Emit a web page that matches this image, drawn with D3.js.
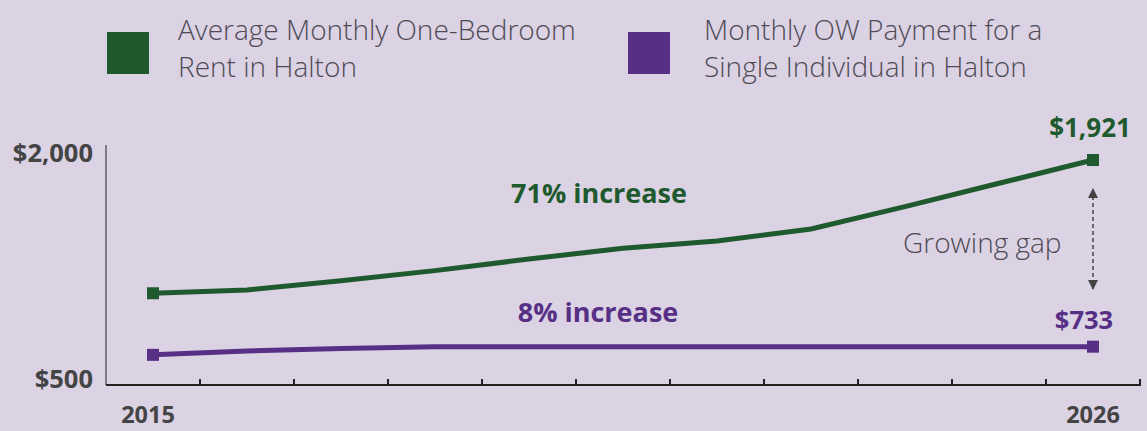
<!DOCTYPE html>
<html>
<head>
<meta charset="utf-8">
<script src="https://cdn.jsdelivr.net/npm/d3@7"></script>
<style>
  html, body { margin: 0; padding: 0; background: #dbd2e4; }
  svg { display: block; font-family: "Open Sans", "Noto Sans", sans-serif; }
</style>
</head>
<body>
<svg id="chart" width="1147" height="431"></svg>
<script>
/*
Values */
var years = ["2015", "2016", "2017", "2018", "2019", "2020", "2021", "2022", "2023", "2024", "2026"];
var rent = [1073, 1094, 1153, 1217, 1291, 1359, 1406, 1482, 1624, 1773, 1921];
var ow = [681, 706, 721, 733, 733, 733, 733, 733, 733, 733, 733];
var yTicks = [500, 2000];
var xLabels = ["2015", "2026"];
var legendNames = [["Average Monthly One-Bedroom", "Rent in Halton"],
                   ["Monthly OW Payment for a", "Single Individual in Halton"]];

var green = "#1e5a2d";
var purple = "#573086";
var textGrey = "#4f4b55";

var svg = d3.select("#chart");

var x = d3.scaleBand().domain(years).range([106, 1140]).padding(0);
var y = d3.scaleLinear().domain([500, 2000]).range([383.3, 147.6]);
function cx(d) { return x(d) + x.bandwidth() / 2; }

/*
Legend */
var legendX = [107, 628];
var legendTextX = [178, 704];
var legendColors = [green, purple];
legendNames.forEach(function(lines, i) {
  svg.append("rect")
    .attr("x", legendX[i]).attr("y", 32)
    .attr("width", 42).attr("height", 42)
    .attr("fill", legendColors[i]);
  var t = svg.append("text")
    .attr("x", legendTextX[i]).attr("y", 40)
    .attr("fill", textGrey)
    .style("font-size", "28px").style("font-weight", 300);
  lines.forEach(function(l, j) {
    t.append("tspan").attr("x", legendTextX[i]).attr("dy", j ? 37 : 0).text(l);
  });
});

/*
Axes */
svg.append("line")
  .attr("x1", 106).attr("x2", 106).attr("y1", 145).attr("y2", 385)
  .attr("stroke", "#625c69").attr("stroke-width", 1.5);
svg.append("line")
  .attr("x1", 106).attr("x2", 1141).attr("y1", 385).attr("y2", 385)
  .attr("stroke", "#222").attr("stroke-width", 2);
svg.selectAll(".tick")
  .data(years)
  .enter().append("line")
  .attr("x1", function(d) { return x(d) + x.bandwidth(); })
  .attr("x2", function(d) { return x(d) + x.bandwidth(); })
  .attr("y1", 379).attr("y2", 385)
  .attr("stroke", "#222").attr("stroke-width", 2);

svg.selectAll(".ylab")
  .data(yTicks)
  .enter().append("text")
  .attr("x", 93)
  .attr("y", function(d) { return y(d) + (d == 2000 ? 14 : 5); })
  .attr("text-anchor", "end")
  .attr("fill", "#444")
  .style("font-size", "25.5px").style("font-weight", 700)
  .text(function(d) { return "$" + d3.format(",")(d); });

svg.selectAll(".xlab")
  .data(xLabels)
  .enter().append("text")
  .attr("x", function(d) { return cx(d) - (d == "2015" ? 5 : 0); })
  .attr("y", 423)
  .attr("text-anchor", "middle")
  .attr("fill", "#444")
  .style("font-size", "23.5px").style("font-weight", 700)
  .text(function(d) { return d; });

/*
Lines */
var line = d3.line()
  .x(function(d, i) { return cx(years[i]); })
  .y(function(d) { return y(d); });

[[rent, green], [ow, purple]].forEach(function(s) {
  svg.append("path")
    .datum(s[0])
    .attr("d", line)
    .attr("fill", "none")
    .attr("stroke", s[1])
    .attr("stroke-width", 5);
  var ends = [0, s[0].length - 1];
  svg.selectAll(null)
    .data(ends)
    .enter().append("rect")
    .attr("x", function(i) { return cx(years[i]) - 6; })
    .attr("y", function(i) { return y(s[0][i]) - 6; })
    .attr("width", 12).attr("height", 12)
    .attr("fill", s[1]);
});

/*
Annotations */
function label(txt, px, py, col, size, weight) {
  svg.append("text")
    .attr("x", px).attr("y", py)
    .attr("text-anchor", "middle")
    .attr("fill", col)
    .style("font-size", size).style("font-weight", weight)
    .text(txt);
}
var last = years.length - 1;
label("$" + d3.format(",")(rent[last]), cx(years[last]) - 3, 137, green, "26px", 700);
label("$" + ow[last], cx(years[last]) - 9, 329, purple, "25.5px", 700);
label("71% increase", 599, 203, green, "27px", 700);
label("8% increase", 598, 322, purple, "27px", 700);

svg.append("text")
  .attr("x", 903).attr("y", 253)
  .attr("fill", textGrey)
  .style("font-size", "28px").style("font-weight", 300)
  .text("Growing gap");

/*
Growing gap arrow */
var defs = svg.append("defs");
defs.append("marker")
  .attr("id", "tri").attr("viewBox", "0 0 10 10")
  .attr("refX", 9).attr("refY", 5)
  .attr("markerWidth", 10).attr("markerHeight", 10)
  .attr("markerUnits", "userSpaceOnUse")
  .attr("orient", "auto-start-reverse")
  .append("path").attr("d", "M0,0L10,5L0,10Z").attr("fill", "#444");
var ax = cx(years[last]);
svg.append("line")
  .attr("x1", ax).attr("x2", ax)
  .attr("y1", 189).attr("y2", 289)
  .attr("stroke", "#444").attr("stroke-width", 1.5)
  .attr("stroke-dasharray", "4,3")
  .attr("marker-start", "url(#tri)")
  .attr("marker-end", "url(#tri)");
</script>
</body>
</html>
